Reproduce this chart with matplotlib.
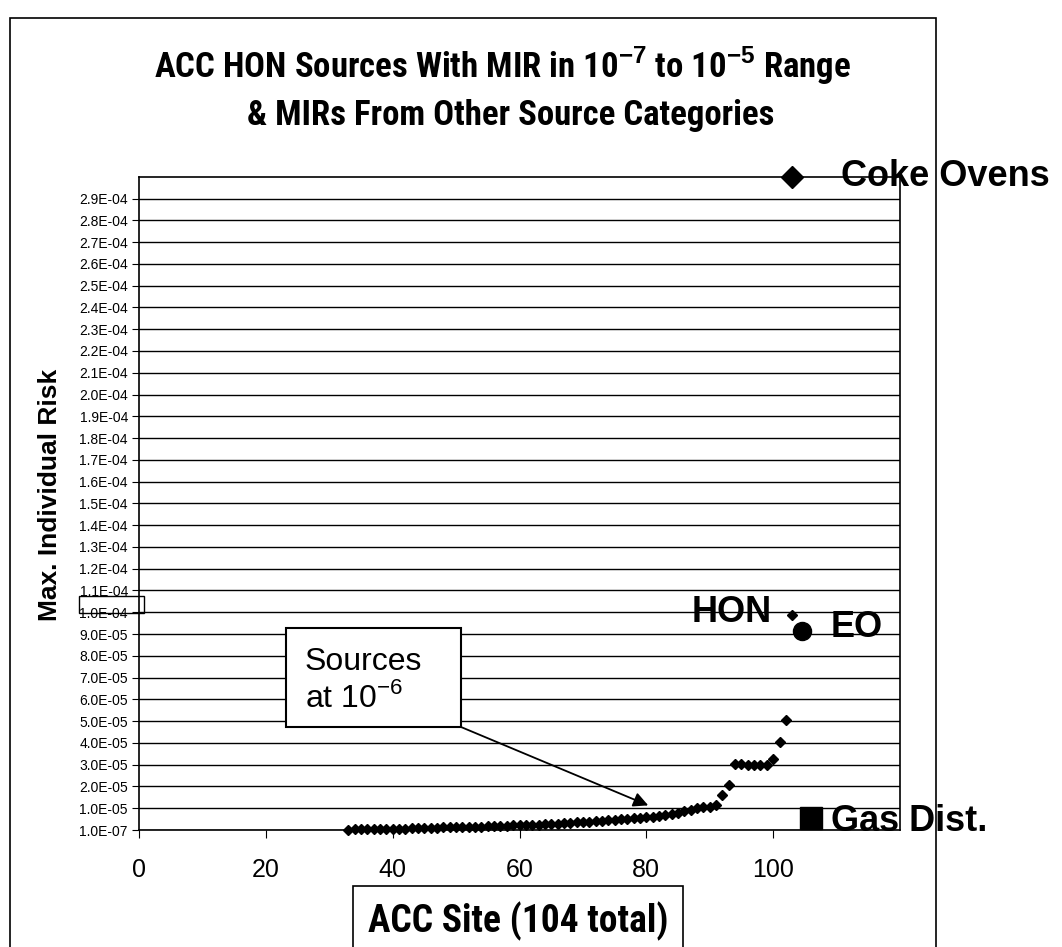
import numpy as np
import matplotlib.pyplot as plt
from matplotlib.patches import Rectangle

# ACC HON sources sorted by MIR, x = site rank (only those >= 1e-7 shown)
site = np.arange(33, 104)
mir_e6 = [0.3, 0.35, 0.4, 0.45, 0.5, 0.5, 0.55, 0.6, 0.65, 0.7,
          0.8, 0.9, 1.0, 1.1, 1.2, 1.3, 1.3, 1.4, 1.5, 1.5,
          1.6, 1.7, 1.8, 1.9, 2.0, 2.1, 2.2, 2.3, 2.4, 2.5,
          2.6, 2.7, 2.8, 3.0, 3.2, 3.4, 3.6, 3.8, 4.0, 4.2,
          4.4, 4.6, 4.8, 5.0, 5.2, 5.4, 5.6, 5.9, 6.2, 6.6,
          7.0, 7.5, 8.0, 8.6, 9.4, 10.2, 10.5, 10.8, 11.7, 16.3,
          20.6, 30.2, 30.2, 30.1, 30.1, 30.0, 30.0, 32.6, 40.4, 50.5,
          98.7]
mir = np.array(mir_e6) * 1e-6

# MIRs from other source categories
coke_x, coke_y = [103], [3.0e-4]
eo_x, eo_y = [104.6], [9.15e-5]
gas_x, gas_y = [106], [5.4e-6]

ytick_vals = [1e-7] + [k * 1e-5 + 1e-7 for k in range(1, 30)]
ytick_labels = ['1.0E-07'] + ['%.1E' % (k * 1e-5) for k in range(1, 30)]
xtick_vals = [0, 20, 40, 60, 80, 100]

W, H = 1062, 947
plt.rcParams['font.family'] = ['Liberation Sans', 'DejaVu Sans']
plt.rcParams['mathtext.fontset'] = 'custom'
plt.rcParams['mathtext.rm'] = 'Liberation Sans'
plt.rcParams['mathtext.bf'] = 'Liberation Sans:bold'
narrow = ['Roboto Condensed', 'Liberation Sans']

def px(x, y):
    return x / W, 1 - y / H

fig = plt.figure(figsize=(W / 100, H / 100), dpi=100)
ax = fig.add_axes([139 / W, 1 - 830 / H, 761 / W, 653 / H])

ax.plot(site, mir, 'D', color='black', ms=4.8, clip_on=False)
ax.plot(coke_x, coke_y, 'D', color='black', ms=11, clip_on=False)
ax.plot(eo_x, eo_y, 'o', color='black', ms=13, clip_on=False)
ax.plot(gas_x, gas_y, 's', color='black', ms=16, clip_on=False)

ax.set_xlim(0, 120)
ax.set_ylim(1e-7, 3.0e-4)
ax.set_yticks(ytick_vals)
ax.set_yticklabels(ytick_labels, fontsize=10)
ax.set_xticks(xtick_vals)
ax.set_xticklabels([str(v) for v in xtick_vals], fontsize=18)
ax.tick_params(axis='x', length=6, pad=14)
ax.tick_params(axis='y', length=5, pad=3)
ax.yaxis.grid(True, color='black', lw=1)
ax.set_axisbelow(True)
for s in ax.spines.values():
    s.set_linewidth(1.2)

# labels next to the other categories
bold = dict(fontsize=26, fontweight='bold', va='center')
ax.text(93.4, 1.0e-4, 'HON', ha='center', **bold)
ax.text(109, 9.3e-5, 'EO', ha='left', **bold)
ax.text(109.1, 4.1e-6, 'Gas Dist.', ha='left', clip_on=False, **bold)
ax.text(110.7, 3.0e-4, 'Coke Ovens', ha='left', clip_on=False, **bold)

# callout box
fig.patches.append(Rectangle(px(286, 727), 175 / W, 99 / H, transform=fig.transFigure,
                             fill=True, facecolor='white', edgecolor='black', lw=1.5, zorder=5))
fig.text(*px(305, 680), 'Sources\nat 10$^{-6}$', fontsize=23, ha='left', va='center',
         linespacing=1.2, zorder=6)
ax.annotate('', xy=(80.3, 1.14e-5), xytext=px(461, 727), textcoords='figure fraction',
            arrowprops=dict(arrowstyle='-|>', color='black', lw=1.3, shrinkA=0, shrinkB=0,
                            mutation_scale=22))

# 1.0E-04 marked box
fig.patches.append(Rectangle(px(79, 613), 65 / W, 17 / H, transform=fig.transFigure,
                             fill=False, edgecolor='black', lw=1))

# title
fig.text(*px(503, 66), 'ACC HON Sources With MIR in 10$^{\\mathbf{-7}}$ to 10$^{\\mathbf{-5}}$ Range',
         family=narrow, fontsize=25, fontweight='bold', ha='center', va='center')
fig.text(*px(511, 115), '& MIRs From Other Source Categories',
         family=narrow, fontsize=25, fontweight='bold', ha='center', va='center')

# axis titles
fig.text(*px(50, 495), 'Max. Individual Risk', rotation=90, fontsize=19,
         fontweight='bold', ha='center', va='center')
fig.text(*px(518, 921), 'ACC Site (104 total)', family=narrow, fontsize=27,
         fontweight='bold', ha='center', va='center',
         bbox=dict(boxstyle='square,pad=0.4', facecolor='white', edgecolor='black', lw=1.2))

# outer chart border
fig.patches.append(Rectangle(px(10, 1000), 926 / W, 982 / H, transform=fig.transFigure,
                             fill=False, edgecolor='black', lw=1.2))

fig.savefig('out.png', dpi=100)
